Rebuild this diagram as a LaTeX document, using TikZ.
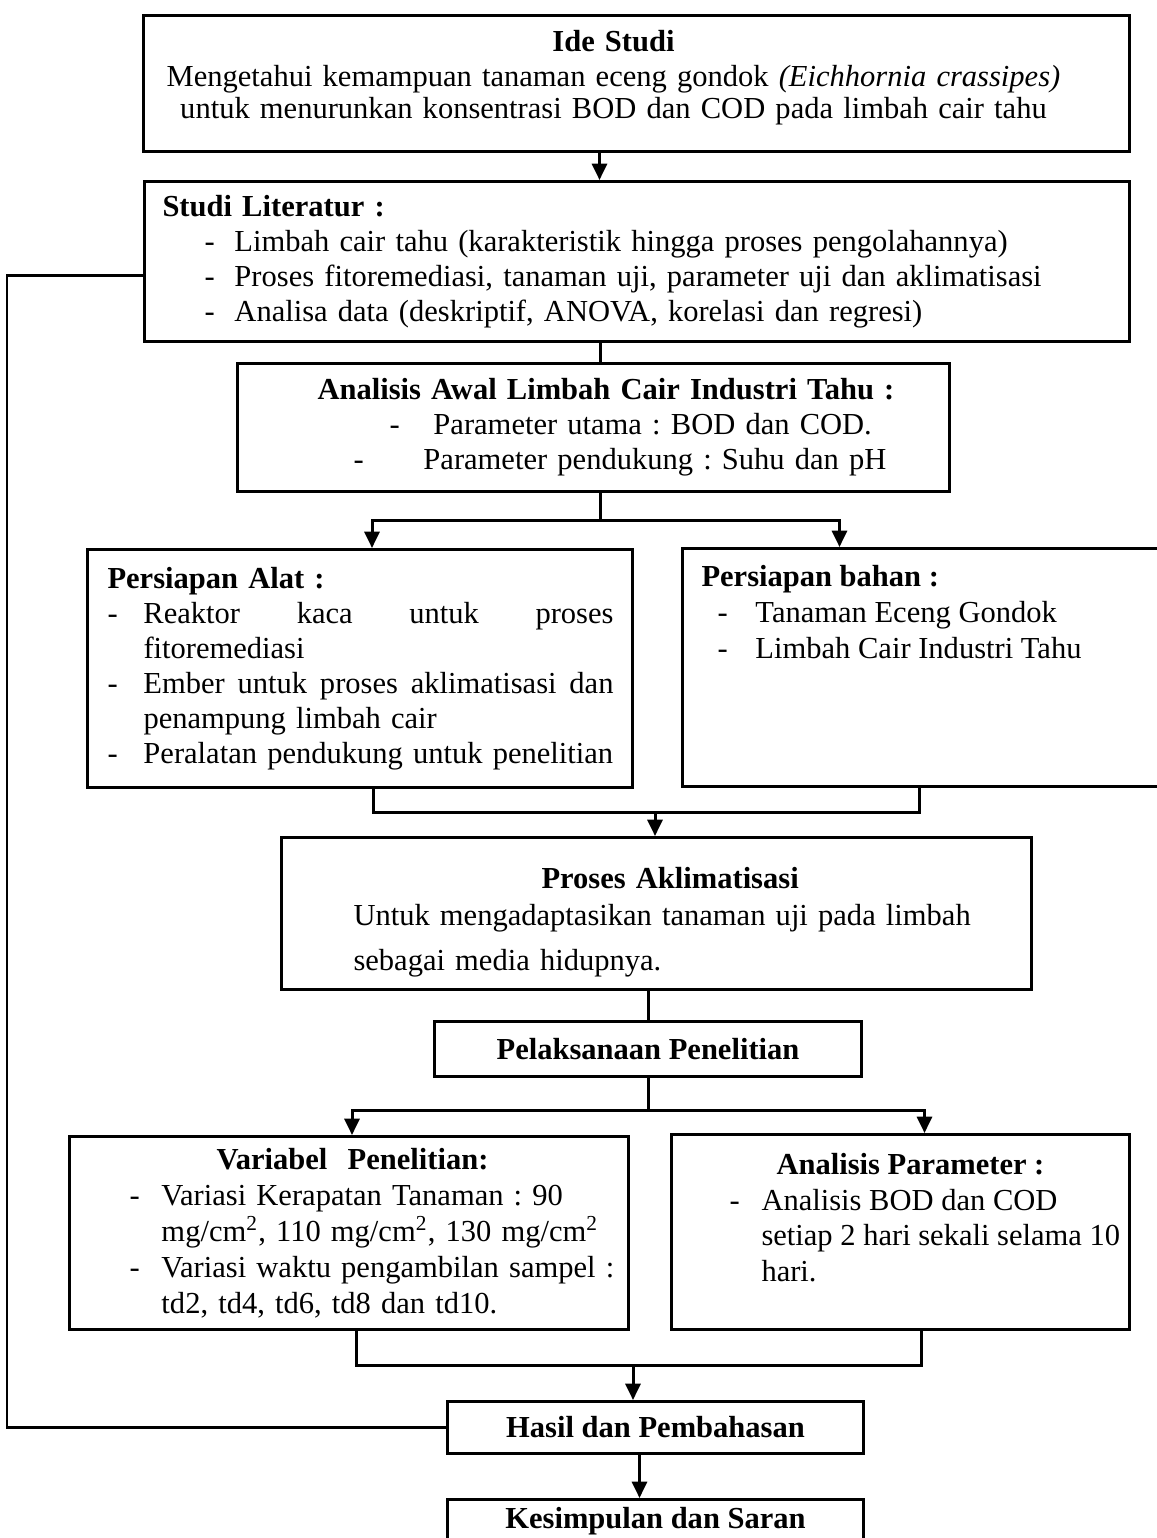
\documentclass[tikz,border=0pt]{standalone}
\usepackage{fontspec}
\setmainfont{Liberation Serif}
\usetikzlibrary{positioning, arrows.meta, calc}

\newlength\pxu
\setlength\pxu{0.0129cm}
\newcommand{\dsh}[1]{\makebox[#1][l]{-}}
\hyphenpenalty=10000
\tolerance=10000
\frenchspacing

\begin{document}
\begin{tikzpicture}[
    x=0.0129cm, y=-0.0129cm,
    line width=1.1pt,
    box/.style={draw, rectangle, anchor=north west, inner sep=0pt, align=left, font=\fontsize{11.2}{12.8}\selectfont},
    cbox/.style={box, align=center, font=\fontsize{11.2}{12.8}\selectfont\bfseries},
    arrow/.style={-{Triangle[width=5.5pt, length=6pt]}}
]
\useasboundingbox (0,0) rectangle (1156,1538);

\node[box, align=center, minimum width=986\pxu, minimum height=136\pxu, text width=986\pxu] (ide) at (142,14)
      {\hspace*{-46\pxu}\textbf{Ide Studi}\\
       \hspace*{-46\pxu}Mengetahui kemampuan tanaman eceng gondok \textit{(Eichhornia crassipes)}\\[-1pt]
       \hspace*{-46\pxu}untuk menurunkan konsentrasi BOD dan COD pada limbah cair tahu\rule[-6.5pt]{0pt}{1pt}};

\node[box, minimum width=985\pxu, minimum height=160\pxu, text width=985\pxu] (lit) at (143,180)
      {\hspace*{18\pxu}\textbf{Studi Literatur :}\\
       \hspace*{60\pxu}\dsh{30\pxu}Limbah cair tahu (karakteristik hingga proses pengolahannya)\\
       \hspace*{60\pxu}\dsh{30\pxu}Proses fitoremediasi, tanaman uji, parameter uji dan aklimatisasi\\
       \hspace*{60\pxu}\dsh{30\pxu}Analisa data (deskriptif, ANOVA, korelasi dan regresi)};

\node[box, minimum width=712\pxu, minimum height=128\pxu, text width=712\pxu] (awal) at (236,362)
      {\hspace*{80\pxu}\textbf{Analisis Awal Limbah Cair Industri Tahu :}\\
       \hspace*{152\pxu}\dsh{44\pxu}Parameter utama : BOD dan COD.\\
       \hspace*{116\pxu}\dsh{70\pxu}Parameter pendukung : Suhu dan pH};

\node[box, minimum width=545\pxu, minimum height=238\pxu, text width=545\pxu] (alat) at (86,548)
      {\hspace*{20\pxu}\textbf{Persiapan Alat :}\\
       \hspace*{20\pxu}\dsh{36\pxu}\makebox[470\pxu][l]{Reaktor\hfill kaca\hfill untuk\hfill proses}\\
       \hspace*{56\pxu}fitoremediasi\\
       \hspace*{20\pxu}\dsh{36\pxu}\makebox[470\pxu][l]{Ember\hfill untuk\hfill proses\hfill aklimatisasi\hfill dan}\\
       \hspace*{56\pxu}penampung limbah cair\\
       \hspace*{20\pxu}\dsh{36\pxu}Peralatan pendukung untuk penelitian};

\node[box] (bahan) at (681,547)
      {\parbox[t][238\pxu][t]{490\pxu}{\raggedright\baselineskip=13.2pt\vspace*{17\pxu}%
       \hspace*{19\pxu}\textbf{Persiapan bahan :}\\
       \hspace*{35\pxu}\dsh{38\pxu}Tanaman Eceng Gondok\\
       \hspace*{35\pxu}\dsh{38\pxu}Limbah Cair Industri Tahu}};

\node[box, minimum width=750\pxu, minimum height=152\pxu, text width=750\pxu] (akl) at (280,836)
      {\hspace*{260\pxu}\rule{0pt}{14pt}\textbf{Proses Aklimatisasi}\\[1pt]
       \hspace*{72\pxu}Untuk mengadaptasikan tanaman uji pada limbah\\[3.5pt]
       \hspace*{72\pxu}sebagai media hidupnya.};

\node[cbox, minimum width=427\pxu, minimum height=55\pxu] (pel) at (433,1020) {Pelaksanaan Penelitian};

\node[box, minimum width=559\pxu, minimum height=193\pxu, text width=559\pxu,
      font=\fontsize{11.2}{13.2}\selectfont] (var) at (68,1135)
      {\hspace*{147\pxu}\textbf{Variabel\ \ Penelitian:}\\
       \hspace*{60\pxu}\dsh{32\pxu}Variasi Kerapatan Tanaman : 90\\
       \hspace*{92\pxu}mg/cm\textsuperscript{2}, 110 mg/cm\textsuperscript{2}, 130 mg/cm\textsuperscript{2}\\
       \hspace*{60\pxu}\dsh{32\pxu}Variasi waktu pengambilan sampel :\\
       \hspace*{92\pxu}td2, td4, td6, td8 dan td10.};

\node[box] (par) at (670,1133)
      {\parbox[t][195\pxu][t]{458\pxu}{\raggedright\baselineskip=13pt\vspace*{19\pxu}%
       \hspace*{105\pxu}\textbf{Analisis Parameter :}\\
       \hspace*{58\pxu}\dsh{32\pxu}Analisis BOD dan COD\\
       \hspace*{90\pxu}setiap 2 hari sekali selama 10\\
       \hspace*{90\pxu}hari.}};

\node[cbox, minimum width=416\pxu, minimum height=52\pxu] (hasil) at (446,1400) {Hasil dan Pembahasan};
\node[cbox, minimum width=416\pxu, minimum height=44\pxu] (kes) at (446,1498) {Kesimpulan dan Saran};

% junctions
\coordinate (s1) at (600,520);
\coordinate (m1) at (655,812);
\path (pel.south) ++(0,32) coordinate (s2);
\coordinate (m2) at (633,1365);
\coordinate (fb) at (7,275);

\draw[arrow] ([xshift=-37\pxu]ide.south) -- ([xshift=-37\pxu]ide.south |- lit.north);
\draw ([xshift=-37\pxu]lit.south) -- ([xshift=-37\pxu]lit.south |- awal.north);

\draw (awal.south -| s1) -- (s1);
\draw[arrow] (s1) -| ([xshift=12\pxu]alat.north);
\draw[arrow] (s1) -| ([xshift=-88\pxu]bahan.north);

\draw ([xshift=13\pxu]alat.south) |- (m1) -| ([xshift=-8\pxu]bahan.south);
\draw[arrow] (m1) -- (m1 |- akl.north);

\draw (akl.south -| pel.north) -- (pel.north);

\draw (pel.south) -- (s2);
\draw[arrow] (s2) -| ([xshift=3\pxu]var.north);
\draw[arrow] (s2) -| ([xshift=24\pxu]par.north);

\draw ([xshift=7\pxu]var.south) |- (m2) -| ([xshift=21\pxu]par.south);
\draw[arrow] (m2) -- (m2 |- hasil.north);

\draw[arrow] ([xshift=-16\pxu]hasil.south) -- ([xshift=-16\pxu]hasil.south |- kes.north);

% feedback line
\draw (fb -| lit.west) -- (fb) |- (hasil.west);
\end{tikzpicture}
\end{document}
